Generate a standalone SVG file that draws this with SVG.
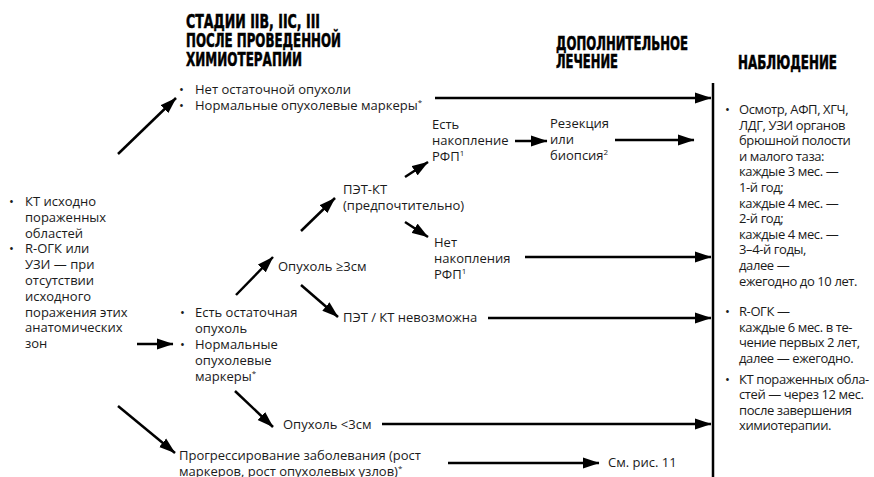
<svg xmlns="http://www.w3.org/2000/svg" width="874" height="477" viewBox="0 0 874 477">
<style>
.h{font-family:"DejaVu Sans Condensed","DejaVu Sans",sans-serif;font-weight:bold;font-size:19px;fill:#000;stroke:#000;stroke-width:0.5}
.t{font-family:"Open Sans","Noto Sans",sans-serif;font-size:13px;fill:#1a1a1a}
.r{letter-spacing:-0.4px}
.s{font-size:8px}
.c line{stroke:#000;stroke-width:2.5;marker-end:url(#ah)}
</style>
<defs>
<marker id="ah" markerUnits="userSpaceOnUse" markerWidth="17" markerHeight="12" refX="16" refY="6" orient="auto" viewBox="0 0 17 12">
<path d="M0,0.5 L16.5,6 L0,11.5 z" fill="#000"/>
</marker>
</defs>
<rect width="874" height="477" fill="#fff"/>
<g id="headers">
<text class="h" x="186" y="28" textLength="134" lengthAdjust="spacingAndGlyphs">СТАДИИ IIB, IIC, III</text>
<text class="h" x="186" y="47" textLength="155" lengthAdjust="spacingAndGlyphs">ПОСЛЕ ПРОВЕДЕННОЙ</text>
<text class="h" x="186" y="66" textLength="116" lengthAdjust="spacingAndGlyphs">ХИМИОТЕРАПИИ</text>
<text class="h" x="556" y="50" textLength="132" lengthAdjust="spacingAndGlyphs">ДОПОЛНИТЕЛЬНОЕ</text>
<text class="h" x="556" y="68" textLength="62" lengthAdjust="spacingAndGlyphs">ЛЕЧЕНИЕ</text>
<text class="h" x="738" y="69" textLength="99" lengthAdjust="spacingAndGlyphs">НАБЛЮДЕНИЕ</text>
</g>
<g id="n-initial">
<text class="t" x="9" y="206">•</text>
<text class="t" x="25" y="206">КТ исходно</text>
<text class="t" x="25" y="221.8">пораженных</text>
<text class="t" x="25" y="237.6">областей</text>
<text class="t" x="9" y="253.4">•</text>
<text class="t" x="25" y="253.4">R-ОГК или</text>
<text class="t" x="25" y="269.2">УЗИ — при</text>
<text class="t" x="25" y="285">отсутствии</text>
<text class="t" x="25" y="300.8">исходного</text>
<text class="t" x="25" y="316.6">поражения этих</text>
<text class="t" x="25" y="332.4">анатомических</text>
<text class="t" x="25" y="348.2">зон</text>
</g>
<g id="n-no-residual">
<text class="t" x="179" y="94">•</text>
<text class="t" x="195" y="94">Нет остаточной опухоли</text>
<text class="t" x="179" y="109.5">•</text>
<text class="t" x="195" y="109.5">Нормальные опухолевые маркеры<tspan class="s" dy="-5">*</tspan></text>
</g>
<g id="n-residual">
<text class="t" x="180" y="317">•</text>
<text class="t" x="195" y="317">Есть остаточная</text>
<text class="t" x="195" y="333">опухоль</text>
<text class="t" x="180" y="349">•</text>
<text class="t" x="195" y="349">Нормальные</text>
<text class="t" x="195" y="365">опухолевые</text>
<text class="t" x="195" y="381">маркеры<tspan class="s" dy="-5">*</tspan></text>
</g>
<g id="n-ge3">
<text class="t" x="278" y="271">Опухоль ≥3см</text>
</g>
<g id="n-petct">
<text class="t" x="343" y="194">ПЭТ-КТ</text>
<text class="t" x="343" y="210">(предпочтительно)</text>
</g>
<g id="n-uptake">
<text class="t" x="432" y="129">Есть</text>
<text class="t" x="432" y="145">накопление</text>
<text class="t" x="432" y="161">РФП<tspan class="s" dy="-5">1</tspan></text>
</g>
<g id="n-resection">
<text class="t" x="550" y="128">Резекция</text>
<text class="t" x="550" y="144">или</text>
<text class="t" x="550" y="160">биопсия<tspan class="s" dy="-5">2</tspan></text>
</g>
<g id="n-no-uptake">
<text class="t" x="434" y="247">Нет</text>
<text class="t" x="434" y="263">накопления</text>
<text class="t" x="434" y="279">РФП<tspan class="s" dy="-5">1</tspan></text>
</g>
<g id="n-pet-impossible">
<text class="t" x="343" y="322">ПЭТ / КТ невозможна</text>
</g>
<g id="n-lt3">
<text class="t" x="283" y="429">Опухоль &lt;3см</text>
</g>
<g id="n-progression">
<text class="t" x="179" y="460">Прогрессирование заболевания (рост</text>
<text class="t" x="179" y="476">маркеров, рост опухолевых узлов)<tspan class="s" dy="-5">*</tspan></text>
</g>
<g id="n-see">
<text class="t" x="608" y="467">См. рис. 11</text>
</g>
<g id="n-observation">
<line x1="713" y1="83" x2="713" y2="477" stroke="#000" stroke-width="2.5"/>
<g class="t r">
<text x="725" y="114">•</text>
<text x="739" y="114">Осмотр, АФП, ХГЧ,</text>
<text x="739" y="129.6">ЛДГ, УЗИ органов</text>
<text x="739" y="145.2">брюшной полости</text>
<text x="739" y="160.8">и малого таза:</text>
<text x="739" y="176.4">каждые 3 мес. —</text>
<text x="739" y="192">1-й год;</text>
<text x="739" y="207.6">каждые 4 мес. —</text>
<text x="739" y="223.2">2-й год;</text>
<text x="739" y="238.8">каждые 4 мес. —</text>
<text x="739" y="254.4">3–4-й годы,</text>
<text x="739" y="270">далее —</text>
<text x="739" y="285.6">ежегодно до 10 лет.</text>
<text x="725" y="316">•</text>
<text x="739" y="316">R-ОГК —</text>
<text x="739" y="331.6">каждые 6 мес. в те-</text>
<text x="739" y="347.2">чение первых 2 лет,</text>
<text x="739" y="362.8">далее — ежегодно.</text>
<text x="725" y="383.5">•</text>
<text x="739" y="383.5">КТ пораженных обла-</text>
<text x="739" y="399.1">стей — через 12 мес.</text>
<text x="739" y="414.7">после завершения</text>
<text x="739" y="430.3">химиотерапии.</text>
</g>
</g>
<g id="connectors" class="c">
<line x1="118" y1="154" x2="176" y2="98"/>
<line x1="435" y1="98" x2="711" y2="98"/>
<line x1="515" y1="141" x2="547" y2="141"/>
<line x1="615" y1="140" x2="694" y2="140"/>
<line x1="405" y1="177" x2="428" y2="162"/>
<line x1="405" y1="222" x2="428" y2="237"/>
<line x1="525" y1="257" x2="711" y2="257"/>
<line x1="301" y1="231" x2="335" y2="198"/>
<line x1="236" y1="295" x2="273" y2="257"/>
<line x1="301" y1="285" x2="338" y2="317"/>
<line x1="488" y1="318" x2="711" y2="318"/>
<line x1="137" y1="344" x2="173" y2="344"/>
<line x1="235" y1="391" x2="273" y2="427"/>
<line x1="382" y1="424" x2="711" y2="424"/>
<line x1="118" y1="406" x2="175" y2="453"/>
<line x1="448" y1="463" x2="599" y2="463"/>
</g>
</svg>
